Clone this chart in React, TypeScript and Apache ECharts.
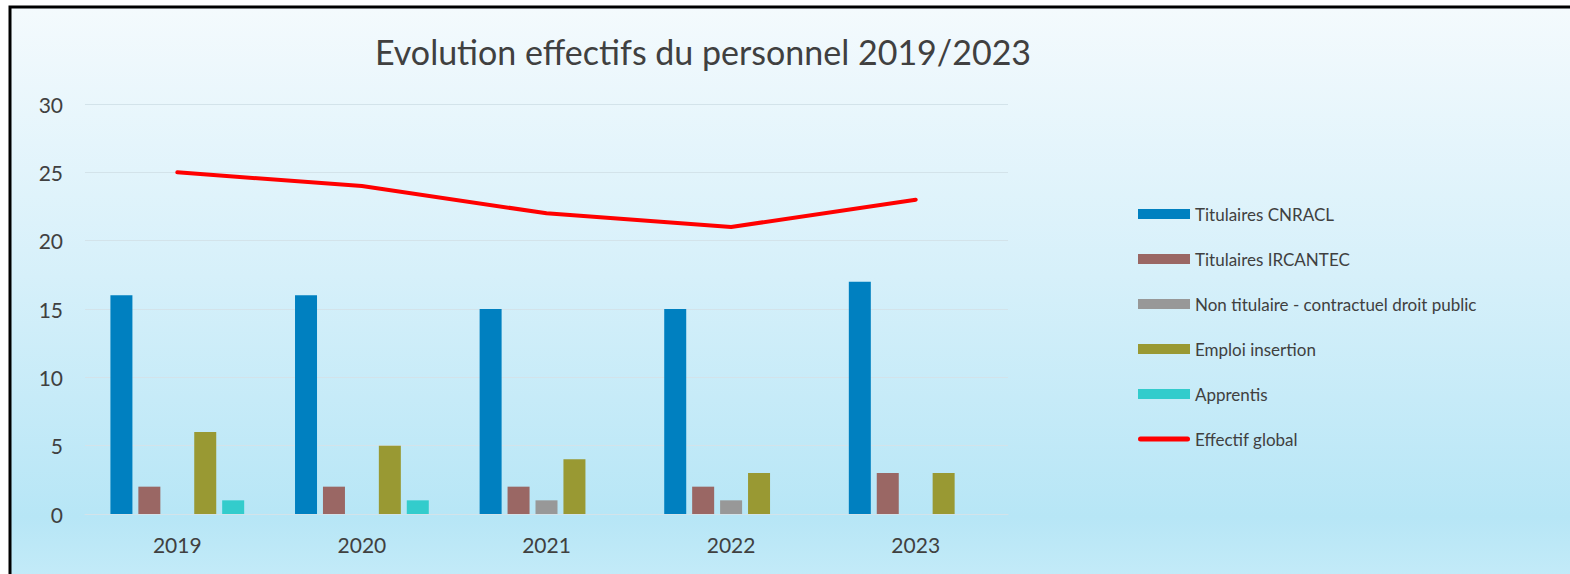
import React, { useEffect, useRef } from "react";
import * as echarts from "echarts";

const years = ["2019", "2020", "2021", "2022", "2023"];
const titulairesCNRACL = [16, 16, 15, 15, 17];
const titulairesIRCANTEC = [2, 2, 2, 2, 3];
const nonTitulaire = [0, 0, 1, 1, 0];
const emploiInsertion = [6, 5, 4, 3, 3];
const apprentis = [1, 1, 0, 0, 0];
const effectifGlobal = [25, 24, 22, 21, 23];

const FONT = "Lato, 'Noto Sans', sans-serif";
const TXT = "#404040";
const LINE_ICON = "path://M2.5,0 L49.5,0 A2.5,2.5 0 0 1 49.5,5 L2.5,5 A2.5,2.5 0 0 1 2.5,0 Z";

export default function App() {
  const ref = useRef<HTMLDivElement>(null);
  useEffect(() => {
    const chart = echarts.init(ref.current!, null, { renderer: "svg" });
    const bar = (name: string, data: number[], color: string) => ({
      name,
      type: "bar",
      data,
      barWidth: 22,
      barGap: "27%",
      itemStyle: { color },
    });
    chart.setOption({
      animation: false,
      textStyle: { fontFamily: FONT },
      graphic: [
        {
          type: "rect",
          z: -10,
          silent: true,
          shape: { x: 10, y: 7, width: 1600, height: 600 },
          style: {
            fill: new echarts.graphic.LinearGradient(0, 0, 0, 1, [
              { offset: 0, color: "#F4FAFD" },
              { offset: 0.45, color: "#D6F0FA" },
              { offset: 0.85, color: "#B7E6F6" },
              { offset: 1, color: "#C9EDF9" },
            ]),
            stroke: "#000000",
            lineWidth: 3,
          },
        },
      ],
      title: {
        text: "Evolution effectifs du personnel 2019/2023",
        left: 698,
        top: 29,
        textAlign: "center",
        textStyle: { fontFamily: FONT, fontSize: 34, fontWeight: "normal", color: TXT },
      },
      grid: { left: 85, right: 562, top: 104, bottom: 60, containLabel: false },
      legend: {
        orient: "vertical",
        left: 1133,
        top: 199,
        itemWidth: 52,
        itemHeight: 10,
        itemGap: 25,
        textStyle: { fontFamily: FONT, fontSize: 17, color: TXT, lineHeight: 20 },
        data: [
          { name: "Titulaires CNRACL", icon: "rect" },
          { name: "Titulaires IRCANTEC", icon: "rect" },
          { name: "Non titulaire - contractuel droit public", icon: "rect" },
          { name: "Emploi insertion", icon: "rect" },
          { name: "Apprentis", icon: "rect" },
          { name: "Effectif global", icon: LINE_ICON, itemStyle: { color: "#FF0000" } },
        ],
      },
      xAxis: {
        type: "category",
        data: years,
        axisLine: { show: true, lineStyle: { color: "#D3E3EA", width: 1 } },
        axisTick: { show: false },
        axisLabel: { fontFamily: FONT, fontSize: 21, color: TXT, margin: 20 },
      },
      yAxis: {
        type: "value",
        min: 0,
        max: 30,
        interval: 5,
        axisLine: { show: false },
        axisTick: { show: false },
        splitLine: { lineStyle: { color: "#D3E3EA", width: 1 } },
        axisLabel: { fontFamily: FONT, fontSize: 21, color: TXT, margin: 22 },
      },
      series: [
        bar("Titulaires CNRACL", titulairesCNRACL, "#0080C0"),
        bar("Titulaires IRCANTEC", titulairesIRCANTEC, "#9A6764"),
        bar("Non titulaire - contractuel droit public", nonTitulaire, "#989898"),
        bar("Emploi insertion", emploiInsertion, "#999933"),
        bar("Apprentis", apprentis, "#33CCCC"),
        {
          name: "Effectif global",
          type: "line",
          data: effectifGlobal,
          symbol: "none",
          showSymbol: false,
          lineStyle: { color: "#FF0000", width: 4, cap: "round" },
          itemStyle: { color: "#FF0000" },
        },
      ],
    });
    return () => chart.dispose();
  }, []);
  return (
    <div
      ref={ref}
      style={{ position: "absolute", left: 0, top: 0, width: 1570, height: 574 }}
    />
  );
}
